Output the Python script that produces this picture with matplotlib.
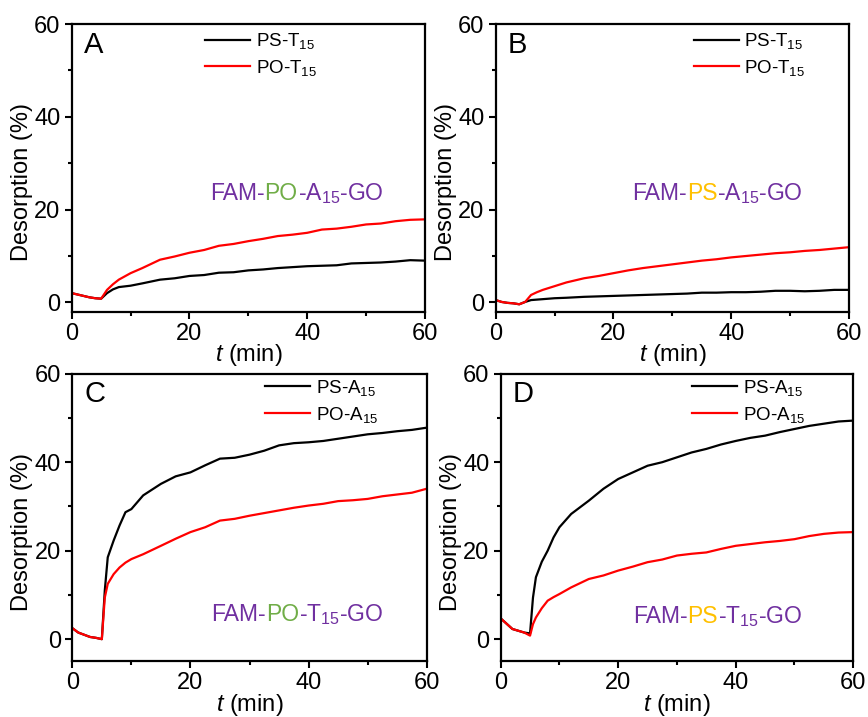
import matplotlib
matplotlib.use('Agg')
import matplotlib.pyplot as plt
from matplotlib.ticker import MultipleLocator

plt.rcParams['font.family'] = ['Liberation Sans', 'DejaVu Sans']
plt.rcParams['mathtext.fontset'] = 'custom'
plt.rcParams['mathtext.rm'] = 'Liberation Sans'
plt.rcParams['mathtext.it'] = 'Liberation Sans:italic'

# === Data ===
t_ab = [0, 1, 2, 3, 4, 5, 6, 7, 8, 10, 12, 15, 17.5, 20, 22.5, 25, 27.5, 30,
        32.5, 35, 37.5, 40, 42.5, 45, 47.5, 50, 52.5, 55, 57.5, 60]
a_ps = [2.0, 1.7, 1.4, 1.1, 0.9, 0.8, 2.0, 2.8, 3.3, 3.6, 4.1, 4.9, 5.2, 5.7, 5.9,
        6.4, 6.5, 6.9, 7.1, 7.4, 7.6, 7.8, 7.9, 8.0, 8.4, 8.5, 8.6, 8.8, 9.1, 9.0]
a_po = [2.0, 1.7, 1.4, 1.1, 0.9, 0.8, 2.7, 3.9, 4.9, 6.3, 7.4, 9.2, 9.9, 10.7, 11.3,
        12.2, 12.6, 13.2, 13.7, 14.3, 14.6, 15.0, 15.7, 15.9, 16.3, 16.8, 17.0, 17.5, 17.8, 17.9]
b_ps = [0.5, 0.1, -0.1, -0.2, -0.4, 0.1, 0.5, 0.6, 0.7, 0.9, 1.0, 1.2, 1.3, 1.4, 1.5,
        1.6, 1.7, 1.8, 1.9, 2.1, 2.1, 2.2, 2.2, 2.3, 2.5, 2.5, 2.4, 2.5, 2.7, 2.7]
b_po = [0.5, 0.1, -0.1, -0.2, -0.4, 0.1, 1.6, 2.2, 2.7, 3.5, 4.3, 5.2, 5.7, 6.3, 6.9,
        7.4, 7.8, 8.2, 8.6, 9.0, 9.3, 9.7, 10.0, 10.3, 10.6, 10.8, 11.1, 11.3, 11.6, 11.9]

t_cd = [0, 1, 2, 3, 4, 5, 5.5, 6, 7, 8, 9, 10, 12, 15, 17.5, 20, 22.5, 25, 27.5, 30,
        32.5, 35, 37.5, 40, 42.5, 45, 47.5, 50, 52.5, 55, 57.5, 60]
c_ps = [2.5, 1.5, 1.0, 0.5, 0.3, 0.0, 11.0, 18.5, 22.3, 25.7, 28.7, 29.4, 32.5, 35.1,
        36.8, 37.7, 39.3, 40.8, 41.0, 41.7, 42.6, 43.8, 44.3, 44.5, 44.8, 45.3, 45.8,
        46.3, 46.6, 47.0, 47.3, 47.8]
c_po = [2.5, 1.5, 1.0, 0.5, 0.3, 0.0, 9.4, 12.5, 14.7, 16.2, 17.3, 18.1, 19.2, 21.1,
        22.7, 24.2, 25.3, 26.8, 27.2, 27.9, 28.5, 29.1, 29.7, 30.2, 30.6, 31.2, 31.4,
        31.7, 32.3, 32.7, 33.1, 34.0]
d_ps = [4.7, 3.5, 2.3, 1.9, 1.5, 1.3, 9.4, 14.0, 17.5, 20.0, 23.0, 25.3, 28.3, 31.3,
        34.0, 36.2, 37.7, 39.2, 40.0, 41.1, 42.2, 43.0, 44.0, 44.8, 45.5, 46.0, 46.8,
        47.5, 48.2, 48.7, 49.2, 49.4]
d_po = [4.7, 3.5, 2.3, 1.9, 1.5, 0.8, 3.4, 4.9, 7.0, 8.7, 9.5, 10.2, 11.7, 13.6,
        14.4, 15.5, 16.4, 17.4, 18.0, 18.9, 19.3, 19.6, 20.4, 21.1, 21.5, 21.9, 22.2,
        22.6, 23.3, 23.8, 24.1, 24.2]

purple = '#7030A0'
green = '#70AD47'
gold = '#FFC000'

panels = [
    # letter, t, black, red, labels, ylim, rect, legend x, legend y, annotation parts, ann xy
    ('A', t_ab, a_ps, a_po, ('PS-T$_{\\mathrm{15}}$', 'PO-T$_{\\mathrm{15}}$'), (-2, 60),
     [0.0826, 0.5653, 0.407, 0.4012], 0.377, 0.975,
     [('FAM-', purple), ('PO', green), ('-A$_{\\mathrm{15}}$-GO', purple)], (0.391, 0.388)),
    ('B', t_ab, b_ps, b_po, ('PS-T$_{\\mathrm{15}}$', 'PO-T$_{\\mathrm{15}}$'), (-2, 60),
     [0.5711, 0.5653, 0.407, 0.4012], 0.56, 0.975,
     [('FAM-', purple), ('PS', gold), ('-A$_{\\mathrm{15}}$-GO', purple)], (0.386, 0.388)),
    ('C', t_cd, c_ps, c_po, ('PS-A$_{\\mathrm{15}}$', 'PO-A$_{\\mathrm{15}}$'), (-5, 60),
     [0.0833, 0.0777, 0.4083, 0.4011], 0.544, 0.985,
     [('FAM-', purple), ('PO', green), ('-T$_{\\mathrm{15}}$-GO', purple)], (0.393, 0.140)),
    ('D', t_cd, d_ps, d_po, ('PS-A$_{\\mathrm{15}}$', 'PO-A$_{\\mathrm{15}}$'), (-5, 60),
     [0.5768, 0.0777, 0.4062, 0.4011], 0.543, 0.985,
     [('FAM-', purple), ('PS', gold), ('-T$_{\\mathrm{15}}$-GO', purple)], (0.375, 0.133)),
]

fig = plt.figure(figsize=(8.68, 7.17), dpi=100)
axes = []
for letter, t, ps, po, labels, ylim, rect, lx, ly, parts, axy in panels:
    ax = fig.add_axes(rect)
    ax.plot(t, ps, color='black', lw=1.6, label=labels[0])
    ax.plot(t, po, color='red', lw=1.6, label=labels[1])
    ax.set_xlim(0, 60)
    ax.set_ylim(*ylim)
    ax.xaxis.set_major_locator(MultipleLocator(20))
    ax.xaxis.set_minor_locator(MultipleLocator(10))
    ax.yaxis.set_major_locator(MultipleLocator(20))
    ax.yaxis.set_minor_locator(MultipleLocator(10))
    ax.tick_params(which='major', direction='out', length=5, width=1.5, labelsize=17, pad=3)
    ax.tick_params(which='minor', direction='out', length=3, width=1.5)
    ax.tick_params(axis='x', which='major', pad=3)
    for s in ax.spines.values():
        s.set_linewidth(1.6)
    ax.set_ylabel('Desorption (%)', fontsize=17, labelpad=2)
    ax.yaxis.set_label_coords(-0.11, 0.45)
    ax.set_xlabel('$t$ (min)', fontsize=17, labelpad=-2)
    ax.text(0.035, 0.9, letter, transform=ax.transAxes, fontsize=21, va='baseline')
    ax.legend(loc='upper left', bbox_to_anchor=(lx, ly), frameon=False, fontsize=13.5,
              handlelength=2.4, handletextpad=0.3, labelspacing=0.35, borderpad=0,
              borderaxespad=0)
    axes.append((ax, parts, axy))

# multi-coloured sample labels
fig.canvas.draw()
renderer = fig.canvas.get_renderer()
for ax, parts, (x, y) in axes:
    for txt, col in parts:
        tx = ax.text(x, y, txt, color=col, fontsize=16.5, transform=ax.transAxes,
                     va='baseline', ha='left')
        bb = tx.get_window_extent(renderer)
        x = ax.transAxes.inverted().transform((bb.x1, bb.y0))[0]

fig.savefig('out.png', dpi=100)
